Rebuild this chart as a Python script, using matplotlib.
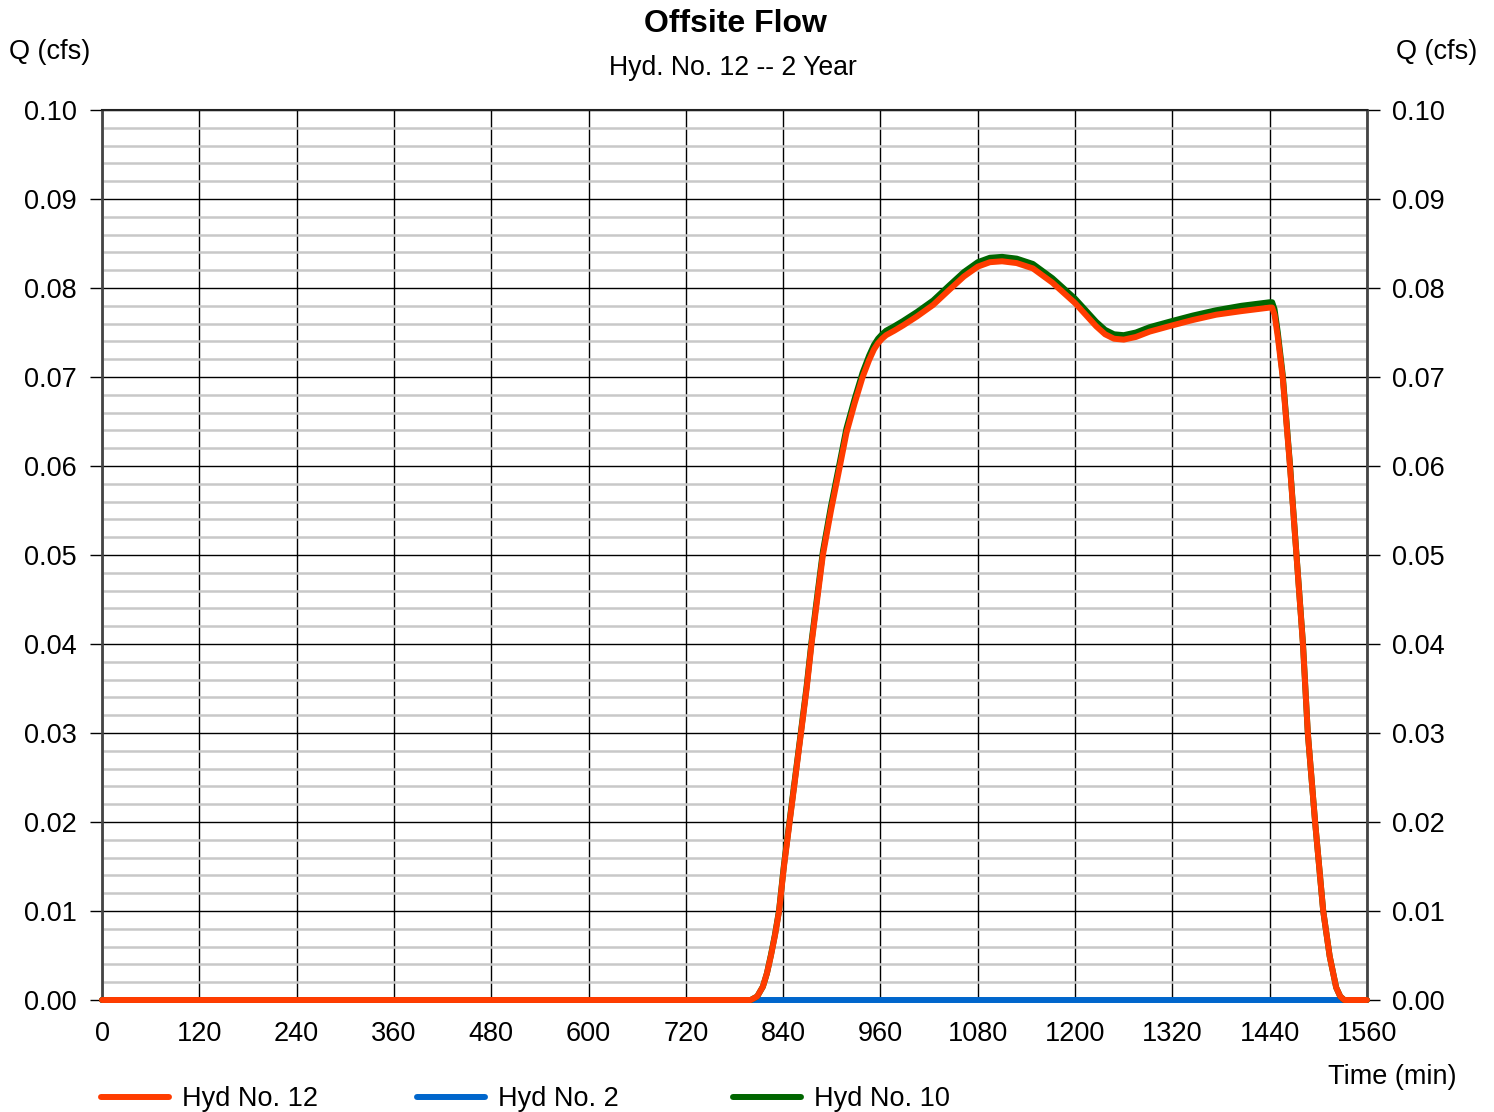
import matplotlib
matplotlib.use("Agg")
import matplotlib.pyplot as plt
from matplotlib.ticker import MultipleLocator
from matplotlib.lines import Line2D

plt.rcParams['font.family'] = ['Liberation Sans', 'DejaVu Sans']

# ---- data ----
time_min = [0, 800, 808, 815, 820, 825, 830, 835, 841, 848, 855, 862, 869, 875,
            882, 889, 899, 910, 918, 928, 938, 946, 952, 957, 962, 967, 977, 988,
            1005, 1025, 1045, 1063, 1080, 1095, 1110, 1128, 1148, 1172, 1200,
            1215, 1226, 1237, 1248, 1260, 1275, 1292, 1320, 1345, 1374, 1405,
            1440, 1443, 1446, 1450, 1456, 1465, 1473, 1481, 1487, 1496, 1506,
            1514, 1522, 1527, 1532, 1560]
hyd12 = [0, 0, 0.0004, 0.0015, 0.0030, 0.0050, 0.0073, 0.0100, 0.0150, 0.0200,
         0.0250, 0.0300, 0.0350, 0.0400, 0.0450, 0.0500, 0.0550, 0.0600, 0.0637,
         0.0670, 0.0700, 0.0719, 0.0731, 0.0738, 0.0743, 0.0747, 0.0752, 0.0758,
         0.0768, 0.0781, 0.0798, 0.0813, 0.0824, 0.0829, 0.0830, 0.0828, 0.0822,
         0.0806, 0.0783, 0.0768, 0.0757, 0.0748, 0.0743, 0.0742, 0.0745, 0.0751,
         0.0758, 0.0764, 0.0770, 0.0774, 0.0778, 0.0778, 0.0770, 0.0745, 0.0700,
         0.0600, 0.0500, 0.0400, 0.0300, 0.0200, 0.0100, 0.0049, 0.0014, 0.0004,
         0, 0]
hyd10 = [0, 0, 0.0004, 0.0015, 0.0030, 0.0051, 0.0074, 0.0101, 0.0152, 0.0202,
         0.0252, 0.0302, 0.0353, 0.0403, 0.0454, 0.0504, 0.0555, 0.0605, 0.0642,
         0.0675, 0.0705, 0.0724, 0.0736, 0.0743, 0.0748, 0.0752, 0.0757, 0.0763,
         0.0773, 0.0786, 0.0803, 0.0818, 0.0829, 0.0834, 0.0835, 0.0833, 0.0827,
         0.0811, 0.0788, 0.0773, 0.0762, 0.0753, 0.0748, 0.0747, 0.0750, 0.0756,
         0.0763, 0.0769, 0.0775, 0.0780, 0.0784, 0.0784, 0.0776, 0.0750, 0.0703,
         0.0602, 0.0501, 0.0401, 0.0300, 0.0200, 0.0100, 0.0049, 0.0014, 0.0004,
         0, 0]
hyd2_time = [0, 1560]
hyd2 = [0, 0]

x_ticks = [0, 120, 240, 360, 480, 600, 720, 840, 960, 1080, 1200, 1320, 1440, 1560]
y_ticks = [0.00, 0.01, 0.02, 0.03, 0.04, 0.05, 0.06, 0.07, 0.08, 0.09, 0.10]

c12 = '#ff3c00'
c2 = '#0066cc'
c10 = '#006600'

FS = 19.5

W, H = 1494, 1112
fig = plt.figure(figsize=(W / 100, H / 100), dpi=100)
ax = fig.add_axes([102 / W, 1 - 1000 / H, (1367 - 102) / W, (1000 - 110) / H])

ax.set_xlim(0, 1560)
ax.set_ylim(0, 0.10)
ax.set_xticks(x_ticks)
ax.set_xticklabels([str(t) for t in x_ticks])
ax.set_yticks(y_ticks)
ax.set_yticklabels([f"{v:.2f}" for v in y_ticks])
ax.yaxis.set_minor_locator(MultipleLocator(0.002))

ax.grid(True, which='minor', axis='y', color='#c8c8c8', linewidth=1.8, zorder=0)
ax.grid(True, which='major', axis='both', color='black', linewidth=1.0, zorder=1)

ax.tick_params(axis='y', which='major', left=True, right=True, labelleft=True,
               labelright=True, length=9, width=1.0, direction='out',
               labelsize=FS, pad=9, color='black')
ax.tick_params(axis='y', which='minor', left=False, right=False)
ax.tick_params(axis='x', which='major', length=0, labelsize=FS, pad=15)

for s in ['left', 'right']:
    ax.spines[s].set_color('#444444')
    ax.spines[s].set_linewidth(2.0)
for s in ['top', 'bottom']:
    ax.spines[s].set_color('#222222')
    ax.spines[s].set_linewidth(1.5)

ax.plot(hyd2_time, hyd2, color=c2, lw=4.3, solid_capstyle='round',
        solid_joinstyle='round', zorder=3, clip_on=False)
ax.plot(time_min, hyd10, color=c10, lw=4.3, solid_capstyle='round',
        solid_joinstyle='round', zorder=4, clip_on=False)
ax.plot(time_min, hyd12, color=c12, lw=4.3, solid_capstyle='round',
        solid_joinstyle='round', zorder=5, clip_on=False)

fig.text(735 / W, 1 - 24 / H, 'Offsite Flow', ha='center', va='center',
         fontsize=23, fontweight='bold')
fig.text(733 / W, 1 - 68 / H, 'Hyd. No. 12 -- 2 Year', ha='center', va='center',
         fontsize=19.2)
fig.text(50 / W, 1 - 52 / H, 'Q (cfs)', ha='center', va='center', fontsize=FS)
fig.text(1437 / W, 1 - 52 / H, 'Q (cfs)', ha='center', va='center', fontsize=FS)
fig.text(1392 / W, 1 - 1077 / H, 'Time (min)', ha='center', va='center', fontsize=FS)

labels = ['Hyd No. 12', 'Hyd No. 2', 'Hyd No. 10']
colors = [c12, c2, c10]
xs = [101, 417, 733]
for lab, col, x0 in zip(labels, colors, xs):
    h = Line2D([0], [0], color=col, lw=4.3, solid_capstyle='round')
    fig.legend([h], [lab], loc='center left', bbox_to_anchor=(x0 / W, 1 - 1099 / H),
               frameon=False, fontsize=FS, handlelength=2.5, handletextpad=0.48,
               borderpad=0, borderaxespad=0)

fig.savefig('out.png', dpi=100)
